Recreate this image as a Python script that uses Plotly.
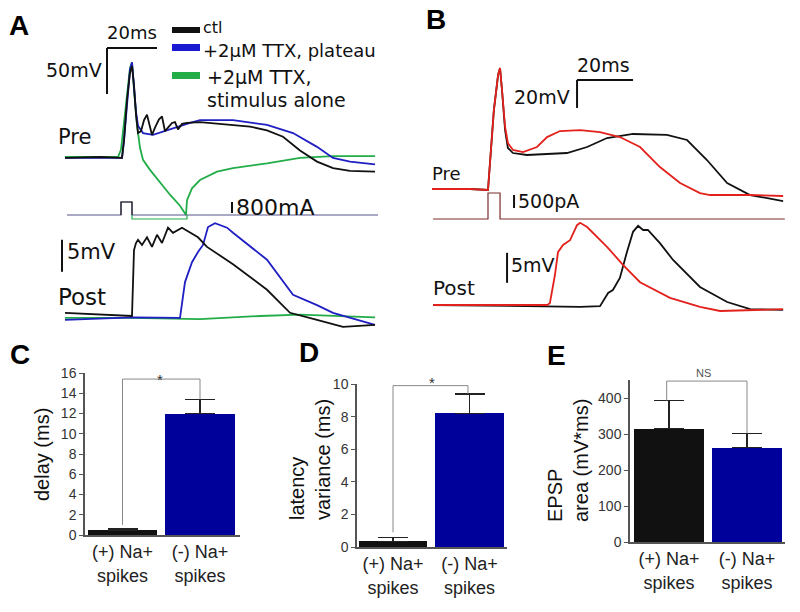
import plotly.graph_objects as go

W, H = 800, 612

# ---------------- Panel A : presynaptic / postsynaptic traces ----------------
# time in ms, voltage in mV relative to rest, current in mA
a_pre_ctl_t = [0, 14, 22.8, 23.6, 24.8, 26, 26.8, 27.6, 28.4, 29.2, 30.4, 31.6, 32.8, 34, 34.8, 36, 37.6,
               38.8, 40, 41.2, 42.8, 44, 45.2, 46.8, 48.8, 54, 67.2, 74, 80.8, 87.2, 94, 100.8, 107.2, 114, 124]
a_pre_ctl_v = [-1, 0, -1, 18, 62, 92, 99, 78, 46, 26, 28, 40, 46, 32, 24, 32, 41,
               44, 28, 32, 37, 38, 30, 36, 37, 38, 35, 33, 29, 22, 7, -5, -12, -15, -16]

a_pre_plat_t = [0, 22.8, 23.6, 24.8, 26, 26.8, 27.6, 28.4, 29.2, 31.2, 35.2, 40.8, 44.8, 50, 54, 67.2,
                80.8, 91.2, 100.8, 107.2, 114, 124]
a_pre_plat_v = [-1, -1, 18, 62, 95, 103, 78, 49, 34, 26, 24, 29, 33, 37, 40, 40,
                35, 26, 11, -1, -5, -8]

a_pre_stim_t = [0, 21.2, 22.4, 23.6, 24.8, 26, 26.8, 27.6, 28.8, 30, 31.2, 34, 38, 42, 46, 48.4, 48.8,
                50.8, 54, 60.8, 67.2, 80.8, 94, 107.2, 124]
a_pre_stim_v = [0, 0, 8, 35, 67, 97, 103, 73, 35, 10, -3, -14, -28, -41, -53, -63, -47,
                -34, -25, -16, -12, -7, -1, 1, 1]

a_cur_t = [0.8, 22.4, 22.4, 26.8, 26.8, 125.2]
a_cur_ctl = [0, 0, 945, 945, 0, 0]
a_cur_stim_t = [26.8, 26.8, 48.8, 48.8]
a_cur_stim = [0, -290, -290, 0]

a_post_ctl_t = [0, 14, 26.8, 27.6, 28.4, 29.2, 30.8, 32.8, 34.8, 36.8, 38.8, 41.2, 43.2, 46.8, 50, 53.2,
                56.8, 67.2, 80.8, 90, 100.8, 111.2, 124]
a_post_ctl_v = [0.5, 0.2, 0, 10.3, 11.4, 11.9, 11.1, 12.3, 10.8, 12.7, 11.4, 13.8, 13, 13.8, 13.1, 12.3,
                10.8, 8.1, 4.1, 0.5, -0.6, -1.7, -1.4]

a_post_plat_t = [0, 27.2, 46, 48, 50.8, 53.2, 55.2, 57.2, 60, 64.8, 67.2, 80.8, 91.2, 100.8, 107.2, 124]
a_post_plat_v = [-0.6, -0.2, -0.3, 5.3, 8.4, 10, 11.1, 13.9, 14.5, 13.8, 13, 8.8, 3.3, 1.7, 0.5, -1.4]

a_post_stim_t = [0, 26, 54, 78, 94, 110, 124]
a_post_stim_v = [-0.3, -0.3, -0.5, 0, 0.2, 0, -0.2]

# ---------------- Panel B ----------------
b_pre_red_t = [0, 13.6, 20, 20.7, 22.1, 23.6, 24.3, 25, 26.1, 27.1, 28.9, 32.5, 37.5, 41.1, 45.7, 52.9,
               60, 67.1, 74.3, 81.4, 88.6, 95.7, 99.3, 107.5, 113.6, 125.4]
b_pre_red_v = [0, 0, -0.7, 20.7, 56.4, 81.4, 86.4, 70.7, 44.3, 32.9, 27.9, 26.4, 30, 37.1, 41.4, 42.1,
               40.7, 37.1, 30, 15.7, 4.3, -2.9, -4.3, -4.3, -4.3, -5]

b_pre_blk_t = [0, 13.6, 20, 20.7, 22.1, 23.6, 24.3, 25, 26.1, 27.1, 28.9, 33.9, 48.2, 55.4, 62.5, 71.8,
               83.9, 91.1, 98.2, 105.4, 113.6, 125.4]
b_pre_blk_v = [0, 0, -0.7, 20.7, 56.4, 81.4, 86.4, 70.7, 42.1, 29.3, 25.7, 24.3, 25.7, 30, 36.4, 39.3,
               38.6, 35, 20.7, 4.3, -4.3, -8.6]

b_cur_t = [0.4, 20, 20, 24.3, 24.3, 126]
b_cur = [0, 0, 1000, 1000, 0, 0]

b_post_red_t = [0.4, 41.1, 42.1, 43.9, 45, 46.8, 49.3, 51.8, 52.9, 55.4, 62.5, 68.2, 74.3, 85, 95.7,
                102.9, 125.4]
b_post_red_v = [0, 0, 0.3, 5, 8.8, 10, 10.8, 13.3, 13.7, 13, 9.7, 6.7, 3.8, 1.2, -0.3, -1, -0.7]

b_post_blk_t = [0.4, 31.4, 52.9, 60, 62.9, 64.6, 67.1, 69.6, 71.8, 73.6, 75.4, 77.1, 81.4, 86.1, 95.7,
                105.4, 113.6, 125.4]
b_post_blk_v = [0, -0.2, -0.3, -0.2, 2, 2.5, 4.5, 8.8, 12.2, 13.2, 12.5, 12.5, 10.3, 7.5, 3, 0.5, -0.7, -0.8]

# ---------------- Bar panels C, D, E ----------------
bar_labels = ["(+) Na+<br>spikes", "(-) Na+<br>spikes"]
delay_ms = [0.45, 12.0]
delay_err = [0.15, 1.4]
latvar_ms = [0.35, 8.2]
latvar_err = [0.22, 1.2]
epsp_area = [315, 262]
epsp_err = [78, 40]

BLACK = "#111111"
BLUE_T = "#1f1fc4"
GREEN = "#22ad48"
RED = "#e3211c"
BAR_BLUE = "#00009a"
ARIAL = "Liberation Sans, Arial, sans-serif"
DJV = "DejaVu Sans, sans-serif"

fig = go.Figure()


def trace(x, y, xa, ya, color, width=1.8):
    fig.add_trace(go.Scatter(x=x, y=y, xaxis=xa, yaxis=ya, mode="lines",
                             line=dict(color=color, width=width),
                             showlegend=False, hoverinfo="skip"))


# Panel A
trace(a_pre_stim_t, a_pre_stim_v, "x", "y", GREEN)
trace(a_pre_plat_t, a_pre_plat_v, "x", "y", BLUE_T)
trace(a_pre_ctl_t, a_pre_ctl_v, "x", "y", BLACK)
trace(a_cur_t, a_cur_ctl, "x", "y2", "#56568f", 1.2)
trace(a_cur_t[1:5], a_cur_ctl[1:5], "x", "y2", "#222222", 1.2)
trace(a_cur_stim_t, a_cur_stim, "x", "y2", GREEN, 1.2)
trace(a_post_stim_t, a_post_stim_v, "x", "y3", GREEN)
trace(a_post_plat_t, a_post_plat_v, "x", "y3", BLUE_T)
trace(a_post_ctl_t, a_post_ctl_v, "x", "y3", BLACK)
# Panel B
trace(b_pre_blk_t, b_pre_blk_v, "x2", "y4", BLACK)
trace(b_pre_red_t, b_pre_red_v, "x2", "y4", RED)
trace(b_cur_t, b_cur, "x2", "y5", "#7a2c2c", 1.2)
trace(b_post_blk_t, b_post_blk_v, "x2", "y6", BLACK)
trace(b_post_red_t, b_post_red_v, "x2", "y6", RED)

# Bars
for xa, ya, vals, errs in [("x3", "y7", delay_ms, delay_err),
                           ("x4", "y8", latvar_ms, latvar_err),
                           ("x5", "y9", epsp_area, epsp_err)]:
    fig.add_trace(go.Bar(x=[0, 1], y=vals, xaxis=xa, yaxis=ya, width=0.9,
                         marker=dict(color=[BLACK, BAR_BLUE], line=dict(width=0)),
                         error_y=dict(type="data", array=errs, arrayminus=[0, 0], symmetric=False,
                                      color="#222222", thickness=1.5, width=15),
                         showlegend=False, hoverinfo="skip"))


def xr(origin_px, ppu):
    r0 = -origin_px / ppu
    return [r0, r0 + W / ppu]


def yr(origin_py, ppu):
    return [(origin_py - H) / ppu, origin_py / ppu]


hid = dict(visible=False, fixedrange=True, domain=[0, 1], automargin=False)
lay = dict(
    width=W, height=H, margin=dict(l=0, r=0, t=0, b=0, pad=0, autoexpand=False), autosize=False,
    paper_bgcolor="white", plot_bgcolor="rgba(0,0,0,0)", bargap=0,
    xaxis=dict(hid, range=xr(65, 2.5), anchor="y"),
    xaxis2=dict(hid, range=xr(432, 2.8), anchor="y4"),
    yaxis=dict(hid, range=yr(157, 0.92), anchor="x"),
    yaxis2=dict(hid, range=yr(215, 11 / 800), anchor="x"),
    yaxis3=dict(hid, range=yr(316, 6.4), anchor="x"),
    yaxis4=dict(hid, range=yr(189, 1.4), anchor="x2"),
    yaxis5=dict(hid, range=yr(219, 13 / 500), anchor="x2"),
    yaxis6=dict(hid, range=yr(305, 6.0), anchor="x2"),
)

axcol = "#555555"


def barx(d0, d1, rng, ya):
    return dict(domain=[d0 / W, d1 / W], range=rng, anchor=ya, tickvals=[0, 1], ticktext=bar_labels,
                showline=True, linecolor=axcol, linewidth=1.5, ticks="", showgrid=False, zeroline=False,
                automargin=False,
                tickfont=dict(family=ARIAL, size=18, color="#222222"), fixedrange=True)


def bary(p_bottom, p_top, rng, xa, dtick):
    return dict(domain=[1 - p_bottom / H, 1 - p_top / H], range=rng, anchor=xa, dtick=dtick,
                tickmode="linear", tick0=0, automargin=False,
                showline=True, linecolor=axcol, linewidth=1.5, ticks="outside", ticklen=4,
                tickcolor=axcol, showgrid=False, zeroline=False,
                tickfont=dict(family=ARIAL, size=14, color="#333333"), fixedrange=True)


lay["xaxis3"] = barx(85, 240, [-0.484, 1.516], "y7")
lay["yaxis7"] = bary(535, 373, [0, 16], "x3", 2)
lay["xaxis4"] = barx(357, 507, [-0.471, 1.490], "y8")
lay["yaxis8"] = bary(547, 384, [0, 10], "x4", 2)
lay["xaxis5"] = barx(630, 785, [-0.5, 1.487], "y9")
lay["yaxis9"] = bary(542, 380, [0, 450], "x5", 100)
fig.update_layout(**lay)

shapes = []


def seg(xref, yref, x0, y0, x1, y1, color=BLACK, width=2):
    shapes.append(dict(type="line", xref=xref, yref=yref, x0=x0, y0=y0, x1=x1, y1=y1,
                       line=dict(color=color, width=width)))


# Scale bars (in data units of each trace axis)
seg("x", "y", 16.8, 118.5, 36.8, 118.5)        # 20 ms
seg("x", "y", 16.8, 118.5, 16.8, 68.5)         # 50 mV
seg("x", "y2", 66.8, 145, 66.8, 945)           # 800 mA
seg("x", "y3", -1.2, 6.9, -1.2, 11.9)          # 5 mV
seg("x2", "y4", 51.8, 77.9, 71.8, 77.9)        # 20 ms
seg("x2", "y4", 51.8, 77.9, 51.8, 57.9)        # 20 mV
seg("x2", "y5", 29.3, 423, 29.3, 923)          # 500 pA
seg("x2", "y6", 26.8, 3.7, 26.8, 8.7)          # 5 mV

# significance brackets
br = "#888888"
shapes.append(dict(type="path", xref="x3", yref="y7", path="M 0,1.0 L 0,15.4 L 1,15.4 L 1,13.4",
                   line=dict(color=br, width=1)))
shapes.append(dict(type="path", xref="x4", yref="y8", path="M 0,0.9 L 0,9.9 L 0.98,9.9 L 0.98,9.4",
                   line=dict(color=br, width=1)))
shapes.append(dict(type="path", xref="x5", yref="y9", path="M -0.03,393 L -0.03,447 L 1,447 L 1,302",
                   line=dict(color=br, width=1)))

# legend swatches (pixel positions)
for y0, y1, c in [(27, 33, BLACK), (44, 51, "#1a1ad0"), (72, 79, GREEN)]:
    shapes.append(dict(type="rect", xref="paper", yref="paper", x0=172 / W, x1=200 / W,
                       y0=1 - y1 / H, y1=1 - y0 / H, fillcolor=c, line=dict(width=0)))
fig.update_layout(shapes=shapes)

ann = []


def txt(s, px, py, size, xanchor="left", family=DJV, color="#111111", bold=False, angle=0,
        align="left"):
    ann.append(dict(text=s, x=px / W, y=1 - py / H, xref="paper", yref="paper", showarrow=False,
                    xanchor=xanchor, yanchor="middle", textangle=angle, align=align, borderpad=0,
                    font=dict(family=family, size=size, color=color,
                              weight="bold" if bold else "normal")))


# panel letters
for s, px, py in [("A", 19, 26), ("B", 436, 20), ("C", 20, 354), ("D", 309, 352), ("E", 556, 355)]:
    txt(s, px, py, 28, "center", ARIAL, "#000000", True)

# panel A texts
txt("20ms", 106, 32, 18)
txt("50mV", 103, 70, 19, "right")
txt("Pre", 57, 137, 21)
txt("800mA", 235, 207, 22)
txt("5mV", 66, 252, 21)
txt("Post", 57, 297, 23)
txt("ctl", 202, 28, 16)
txt("+2\u03bcM TTX, plateau", 202, 50, 18)
txt("+2\u03bcM TTX,", 206, 77, 19)
txt("stimulus alone", 206, 100, 19)
# panel B texts
txt("20ms", 576, 65, 19)
txt("20mV", 571, 97, 19, "right")
txt("Pre", 431, 173, 18)
txt("500pA", 517, 201, 19)
txt("5mV", 510, 265, 19)
txt("Post", 432, 288, 20)
# bar panels
txt("delay (ms)", 42, 455, 20, "center", ARIAL, "#111111", angle=-90)
txt("latency<br>variance (ms)", 310, 460, 20, "center", ARIAL, "#111111", angle=-90)
txt("EPSP<br>area (mV*ms)", 568, 461, 20, "center", ARIAL, "#111111", angle=-90)
txt("*", 160, 379, 15, "center", ARIAL, "#333333")
txt("*", 432, 382, 15, "center", ARIAL, "#333333")
txt("NS", 703, 373, 11, "center", ARIAL, "#555555")
fig.update_layout(annotations=ann)

fig.write_html("out.html", config={"displayModeBar": False},
               post_script="document.body.style.margin='0';")
